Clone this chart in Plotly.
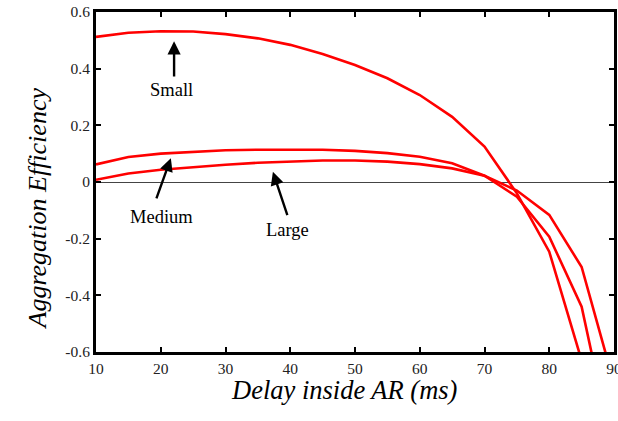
import plotly.graph_objects as go

# Delay inside the AR (ms) at which each efficiency was evaluated
delay_ms = [10, 15, 20, 25, 30, 35, 40, 45, 50, 55, 60, 65, 70, 75, 80, 85, 90]

# Aggregation efficiency per packet-size class
eff_small = [0.512, 0.527, 0.532, 0.531, 0.522, 0.507, 0.484, 0.452, 0.413,
             0.366, 0.307, 0.230, 0.125, -0.040, -0.246, -0.630]
eff_medium = [0.062, 0.088, 0.100, 0.107, 0.112, 0.114, 0.115, 0.114, 0.110,
              0.102, 0.089, 0.066, 0.022, -0.052, -0.193, -0.440, -0.970]
eff_large = [0.008, 0.030, 0.043, 0.053, 0.061, 0.068, 0.073, 0.076, 0.076,
             0.072, 0.063, 0.048, 0.022, -0.030, -0.116, -0.300, -0.710]

series_names = ["Small", "Medium", "Large"]

x_ticks = [10, 20, 30, 40, 50, 60, 70, 80, 90]
y_ticks = [-0.6, -0.4, -0.2, 0, 0.2, 0.4, 0.6]
y_tick_text = ["-0.6", "-0.4", "-0.2", "0", "0.2", "0.4", "0.6"]

SERIF = "Times New Roman, Liberation Serif, DejaVu Serif, serif"

# plot-area geometry in pixels (left, right, top, bottom)
PL, PR, PT, PB = 96, 614, 12, 352
W, H = 618, 421

fig = go.Figure()
for name, vals in zip(series_names, [eff_small, eff_medium, eff_large]):
    fig.add_trace(go.Scatter(
        x=delay_ms[:len(vals)], y=vals, mode="lines", name=name,
        line=dict(color="#ff0000", width=2.6), showlegend=False,
    ))

# Labelled arrows pointing at each curve: (label, tip, tail, text position)
arrows = [
    ("Small", (22.06, 0.497), (22.06, 0.367), (21.6, 0.325)),
    ("Medium", (21.56, 0.084), (19.25, -0.063), (20.1, -0.125)),
    ("Large", (37.32, 0.036), (39.63, -0.122), (39.6, -0.169)),
]
for label, tip, tail, txt in arrows:
    fig.add_annotation(
        x=tip[0], y=tip[1], ax=tail[0], ay=tail[1],
        xref="x", yref="y", axref="x", ayref="y",
        text="", showarrow=True, arrowhead=2, arrowsize=1.1,
        arrowwidth=2.4, arrowcolor="black",
    )
    fig.add_annotation(
        x=txt[0], y=txt[1], xref="x", yref="y", text=label,
        showarrow=False, font=dict(family=SERIF, size=18.5, color="black"),
    )

# Axis titles, placed relative to the plot area
fig.add_annotation(
    x=(344 - PL) / (PR - PL), y=(PB - 407) / (PB - PT),
    xref="x domain", yref="y domain", text="<i>Delay inside AR (ms)</i>",
    showarrow=False, font=dict(family=SERIF, size=26.5, color="black"),
)
fig.add_annotation(
    x=(21 - PL) / (PR - PL), y=(PB - 209) / (PB - PT),
    xref="x domain", yref="y domain",
    text="<i>Aggregation Efficiency</i>", textangle=-90, showarrow=False,
    font=dict(family=SERIF, size=26, color="black"),
)

axis_common = dict(
    showline=True, linewidth=3, linecolor="black", mirror="ticks",
    ticks="inside", ticklen=5, tickwidth=2, tickcolor="black",
    showgrid=False, automargin=False, ticklabeloverflow="allow",
    tickfont=dict(family=SERIF, size=15.5, color="#222"),
)

fig.update_xaxes(range=[10, 90], tickvals=x_ticks, zeroline=False, **axis_common)
fig.update_yaxes(range=[-0.6, 0.6], tickvals=y_ticks, ticktext=y_tick_text,
                 zeroline=True, zerolinecolor="#444", zerolinewidth=1,
                 **axis_common)

fig.update_layout(
    width=W, height=H,
    margin=dict(l=PL, r=W - PR, t=PT, b=H - PB),
    paper_bgcolor="white", plot_bgcolor="white",
    font=dict(family=SERIF),
)

fig.write_html("out.html")
